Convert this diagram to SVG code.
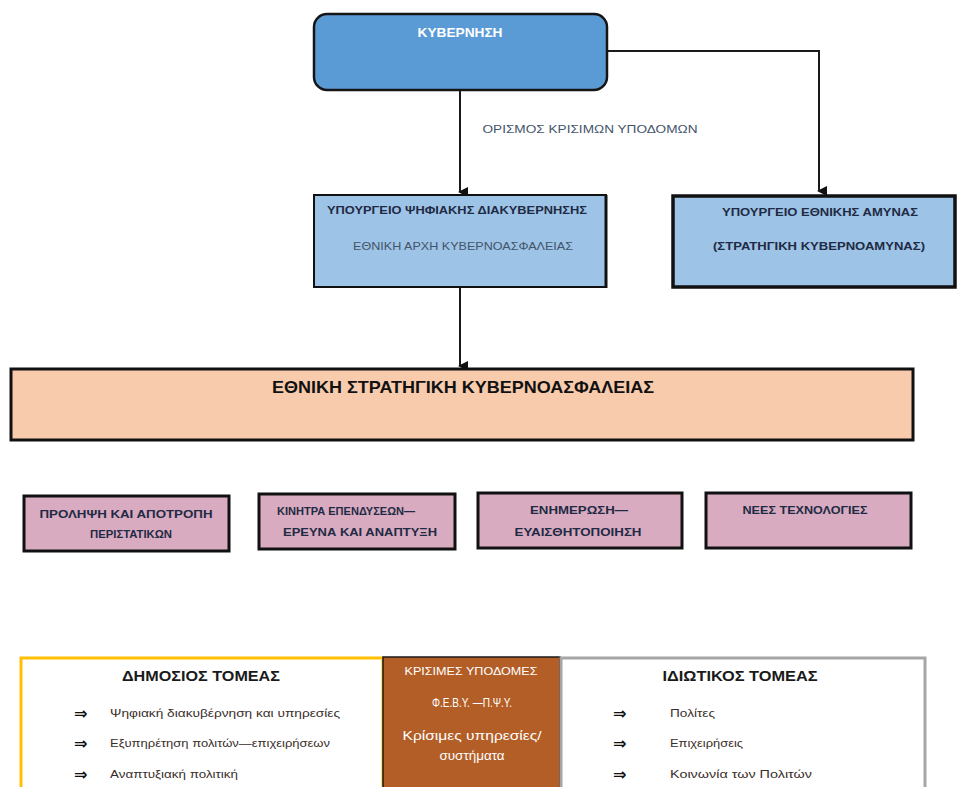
<svg xmlns="http://www.w3.org/2000/svg" width="958" height="787" viewBox="0 0 958 787">
<defs>
<marker id="arr" markerWidth="10" markerHeight="10" refX="5" refY="8" orient="auto" markerUnits="userSpaceOnUse" viewBox="0 0 10 10">
<path d="M0,0 L10,0 L5,10 Z" fill="#111"/>
</marker>
<style>
text{font-family:"Liberation Sans","Noto Sans",sans-serif;text-anchor:middle;dominant-baseline:middle}
.b{font-weight:bold}
.ink{fill:#1f2a44}
.sm{font-size:11px}
.con{fill:none;stroke:#1a1a1a;stroke-width:2}
.pink{fill:#d8abc0;stroke:#111;stroke-width:3}
.lb{fill:#9dc3e6;stroke:#111}
.bul{font-size:16px;font-weight:bold;fill:#111;text-anchor:start;font-family:"DejaVu Sans",sans-serif}
.bt{font-size:10px;fill:#3a2e2a;text-anchor:start}
.w{fill:#fff}
</style>
</defs>

<g id="connectors">
<line class="con" x1="460" y1="90" x2="460" y2="192" marker-end="url(#arr)"/>
<polyline class="con" points="607,51 819,51 819,191" marker-end="url(#arr)"/>
<line class="con" x1="460" y1="288" x2="460" y2="366" marker-end="url(#arr)"/>
<text x="590" y="130" class="sm" style="fill:#44546a" textLength="215" lengthAdjust="spacingAndGlyphs">ΟΡΙΣΜΟΣ ΚΡΙΣΙΜΩΝ ΥΠΟΔΟΜΩΝ</text>
</g>

<g id="kyvernisi">
<rect x="314" y="14" width="293" height="76" rx="13" fill="#5b9bd5" stroke="#151515" stroke-width="2.5"/>
<text x="460" y="34" class="b w" font-size="13" textLength="85" lengthAdjust="spacingAndGlyphs">ΚΥΒΕΡΝΗΣΗ</text>
</g>

<g id="ypourgeio-psifiakis">
<rect x="314" y="195" width="292" height="92" class="lb" stroke-width="2"/>
<line x1="606" y1="195" x2="606" y2="288" stroke="#111" stroke-width="3"/>
<text x="457" y="211" class="b sm ink" textLength="260" lengthAdjust="spacingAndGlyphs">ΥΠΟΥΡΓΕΙΟ ΨΗΦΙΑΚΗΣ ΔΙΑΚΥΒΕΡΝΗΣΗΣ</text>
<text x="463" y="247" class="sm" style="fill:#44546a" textLength="220" lengthAdjust="spacingAndGlyphs">ΕΘΝΙΚΗ ΑΡΧΗ ΚΥΒΕΡΝΟΑΣΦΑΛΕΙΑΣ</text>
</g>

<g id="ypourgeio-amynas">
<rect x="673" y="196" width="282" height="91" class="lb" stroke-width="3.5"/>
<text x="820" y="213" class="b sm ink" textLength="196" lengthAdjust="spacingAndGlyphs">ΥΠΟΥΡΓΕΙΟ ΕΘΝΙΚΗΣ ΑΜΥΝΑΣ</text>
<text x="819" y="247" class="b sm ink" textLength="212" lengthAdjust="spacingAndGlyphs">(ΣΤΡΑΤΗΓΙΚΗ ΚΥΒΕΡΝΟΑΜΥΝΑΣ)</text>
</g>

<g id="ethniki-stratigiki">
<rect x="11" y="369" width="902" height="71" fill="#f8cbad" stroke="#111" stroke-width="3"/>
<text x="463" y="389" font-size="17" fill="#111" style="font-weight:600" textLength="382" lengthAdjust="spacingAndGlyphs">ΕΘΝΙΚΗ ΣΤΡΑΤΗΓΙΚΗ ΚΥΒΕΡΝΟΑΣΦΑΛΕΙΑΣ</text>
</g>

<g id="prolipsi">
<rect x="24" y="496" width="205" height="55" class="pink"/>
<text x="126" y="515" class="b sm ink" textLength="173" lengthAdjust="spacingAndGlyphs">ΠΡΟΛΗΨΗ ΚΑΙ ΑΠΟΤΡΟΠΗ</text>
<text x="131" y="535" class="b sm ink" textLength="82" lengthAdjust="spacingAndGlyphs">ΠΕΡΙΣΤΑΤΙΚΩΝ</text>
</g>

<g id="kinitra">
<rect x="259" y="494" width="196" height="55" class="pink"/>
<text x="346" y="512" class="b sm ink" textLength="138" lengthAdjust="spacingAndGlyphs">ΚΙΝΗΤΡΑ ΕΠΕΝΔΥΣΕΩΝ—</text>
<text x="360" y="533" class="b sm ink" textLength="154" lengthAdjust="spacingAndGlyphs">ΕΡΕΥΝΑ ΚΑΙ ΑΝΑΠΤΥΞΗ</text>
</g>

<g id="enimerosi">
<rect x="478" y="493" width="204" height="55" class="pink"/>
<text x="579" y="511" class="b sm ink" textLength="98" lengthAdjust="spacingAndGlyphs">ΕΝΗΜΕΡΩΣΗ—</text>
<text x="578" y="533" class="b sm ink" textLength="127" lengthAdjust="spacingAndGlyphs">ΕΥΑΙΣΘΗΤΟΠΟΙΗΣΗ</text>
</g>

<g id="nees-technologies">
<rect x="706" y="493" width="205" height="55" class="pink"/>
<text x="805" y="511" class="b sm ink" textLength="125" lengthAdjust="spacingAndGlyphs">ΝΕΕΣ ΤΕΧΝΟΛΟΓΙΕΣ</text>
</g>

<g id="dimosios-tomeas">
<rect x="21" y="658" width="362" height="135" fill="#fff" stroke="#ffc000" stroke-width="3"/>
<text x="201" y="677" class="b" font-size="14" fill="#1a1a1a" textLength="158" lengthAdjust="spacingAndGlyphs">ΔΗΜΟΣΙΟΣ ΤΟΜΕΑΣ</text>
<text x="74" y="714" class="bul">⇒</text>
<text x="110" y="714" class="bt" textLength="230" lengthAdjust="spacingAndGlyphs">Ψηφιακή διακυβέρνηση και υπηρεσίες</text>
<text x="74" y="744" class="bul">⇒</text>
<text x="110" y="744" class="bt" textLength="220" lengthAdjust="spacingAndGlyphs">Εξυπηρέτηση πολιτών—επιχειρήσεων</text>
<text x="74" y="775" class="bul">⇒</text>
<text x="110" y="775" class="bt" textLength="128" lengthAdjust="spacingAndGlyphs">Αναπτυξιακή πολιτική</text>
</g>

<g id="krisimes-ypodomes">
<rect x="383" y="657" width="177" height="136" fill="#b35e26" stroke="#1a1a1a" stroke-width="1.5"/>
<text x="471" y="672" class="sm w" textLength="133" lengthAdjust="spacingAndGlyphs">ΚΡΙΣΙΜΕΣ ΥΠΟΔΟΜΕΣ</text>
<text x="472" y="704" font-size="12" class="w" textLength="80" lengthAdjust="spacingAndGlyphs">Φ.Ε.Β.Υ. —Π.Ψ.Υ.</text>
<text x="472" y="737" font-size="12" class="w" textLength="139" lengthAdjust="spacingAndGlyphs">Κρίσιμες υπηρεσίες/</text>
<text x="472" y="757" font-size="12" class="w" textLength="65" lengthAdjust="spacingAndGlyphs">συστήματα</text>
</g>

<g id="idiotikos-tomeas">
<rect x="561" y="658" width="364" height="135" fill="#fff" stroke="#a6a6a6" stroke-width="3"/>
<text x="740" y="677" class="b" font-size="14" fill="#1a1a1a" textLength="155" lengthAdjust="spacingAndGlyphs">ΙΔΙΩΤΙΚΟΣ ΤΟΜΕΑΣ</text>
<text x="613" y="714" class="bul">⇒</text>
<text x="670" y="714" class="bt" textLength="45" lengthAdjust="spacingAndGlyphs">Πολίτες</text>
<text x="613" y="744" class="bul">⇒</text>
<text x="670" y="744" class="bt" textLength="73" lengthAdjust="spacingAndGlyphs">Επιχειρήσεις</text>
<text x="613" y="775" class="bul">⇒</text>
<text x="670" y="775" class="bt" textLength="142" lengthAdjust="spacingAndGlyphs">Κοινωνία των Πολιτών</text>
</g>
</svg>
